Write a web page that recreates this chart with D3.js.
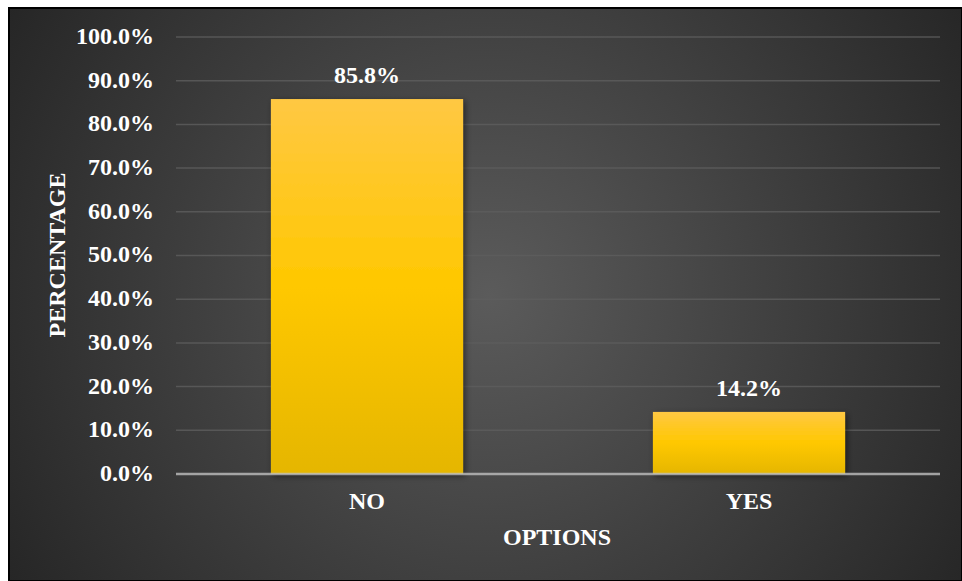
<!DOCTYPE html>
<html>
<head>
<meta charset="utf-8">
<script src="https://cdn.jsdelivr.net/npm/d3@7/dist/d3.min.js"></script>
<style>
  html, body { margin: 0; padding: 0; background: #ffffff; }
  svg { display: block; }
</style>
</head>
<body>
<script>
// Survey responses (share of respondents per option)
const categories = ["NO", "YES"];
const values = [85.8, 14.2];
const yTicks = [0, 10, 20, 30, 40, 50, 60, 70, 80, 90, 100];
const xTitle = "OPTIONS";
const yTitle = "PERCENTAGE";

const W = 962, H = 581;
const svg = d3.select("body").append("svg").attr("width", W).attr("height", H);
const defs = svg.append("defs");

// Dark radial backdrop
const bg = defs.append("radialGradient").attr("id", "bg")
  .attr("gradientUnits", "userSpaceOnUse")
  .attr("cx", 490).attr("cy", 295).attr("r", 560);
bg.append("stop").attr("offset", "0%").attr("stop-color", "#5b5b5b");
bg.append("stop").attr("offset", "100%").attr("stop-color", "#262626");

// Gold bar fill
const gold = defs.append("linearGradient").attr("id", "gold")
  .attr("x1", 0).attr("y1", 0).attr("x2", 0).attr("y2", 1);
gold.append("stop").attr("offset", "0%").attr("stop-color", "#ffc843");
gold.append("stop").attr("offset", "50%").attr("stop-color", "#ffc800");
gold.append("stop").attr("offset", "100%").attr("stop-color", "#e5b600");

const shadow = defs.append("filter").attr("id", "shadow")
  .attr("x", "-20%").attr("y", "-20%").attr("width", "140%").attr("height", "140%");
shadow.append("feDropShadow").attr("dx", 2).attr("dy", 2).attr("stdDeviation", 3)
  .attr("flood-color", "#000").attr("flood-opacity", 0.5);

svg.append("rect").attr("x", 9).attr("y", 8).attr("width", W - 9).attr("height", H - 8)
  .attr("fill", "url(#bg)").attr("stroke", "#000").attr("stroke-width", 2);

const margin = { left: 176, right: 22, top: 37, bottom: 107 };
const x = d3.scaleBand().domain(categories).range([margin.left, W - margin.right])
  .paddingInner(0.497).paddingOuter(0.2485);
const y = d3.scaleLinear().domain([0, 100]).range([H - margin.bottom, margin.top]);

const font = "'Liberation Serif', 'Times New Roman', serif";
const fs = 24;

// Gridlines
svg.append("g").selectAll("line").data(yTicks.filter(d => d > 0)).join("line")
  .attr("x1", margin.left).attr("x2", W - margin.right)
  .attr("y1", d => y(d)).attr("y2", d => y(d))
  .attr("stroke", "#5e5e5e").attr("stroke-width", 1.5).attr("opacity", 0.8);

// Y axis labels
const yAxis = d3.axisLeft(y).tickValues(yTicks).tickSize(0).tickPadding(22)
  .tickFormat(d => d.toFixed(1) + "%");
const gy = svg.append("g").attr("transform", `translate(${margin.left},0)`).call(yAxis);
gy.select(".domain").remove();
gy.selectAll("text").attr("fill", "#ffffff").attr("font-family", font)
  .attr("font-weight", "bold").attr("font-size", fs).attr("dy", "0.27em");

// Bars
svg.append("g").selectAll("rect").data(values).join("rect")
  .attr("x", (d, i) => x(categories[i]))
  .attr("y", d => y(d))
  .attr("width", x.bandwidth())
  .attr("height", d => y(0) - y(d))
  .attr("fill", "url(#gold)")
  .attr("filter", "url(#shadow)");

// X axis line
svg.append("line").attr("x1", margin.left).attr("x2", W - margin.right)
  .attr("y1", y(0)).attr("y2", y(0))
  .attr("stroke", "#bfbfbf").attr("stroke-width", 2.5).attr("opacity", 0.8);

// X axis labels
const xAxis = d3.axisBottom(x).tickSize(0).tickPadding(18);
const gx = svg.append("g").attr("transform", `translate(0,${y(0)})`).call(xAxis);
gx.select(".domain").remove();
gx.selectAll("text").attr("fill", "#ffffff").attr("font-family", font)
  .attr("font-weight", "bold").attr("font-size", fs);

// Value labels
svg.append("g").selectAll("text").data(values).join("text")
  .attr("x", (d, i) => x(categories[i]) + x.bandwidth() / 2)
  .attr("y", d => y(d) - 16)
  .attr("text-anchor", "middle")
  .attr("fill", "#ffffff").attr("font-family", font)
  .attr("font-weight", "bold").attr("font-size", fs)
  .text(d => d.toFixed(1) + "%");

// Axis titles
svg.append("text").attr("x", 557).attr("y", 545).attr("text-anchor", "middle")
  .attr("fill", "#ffffff").attr("font-family", font)
  .attr("font-weight", "bold").attr("font-size", fs).text(xTitle);

svg.append("text").attr("transform", "translate(65,255) rotate(-90)")
  .attr("text-anchor", "middle")
  .attr("fill", "#ffffff").attr("font-family", font)
  .attr("font-weight", "bold").attr("font-size", fs).text(yTitle);
</script>
</body>
</html>
